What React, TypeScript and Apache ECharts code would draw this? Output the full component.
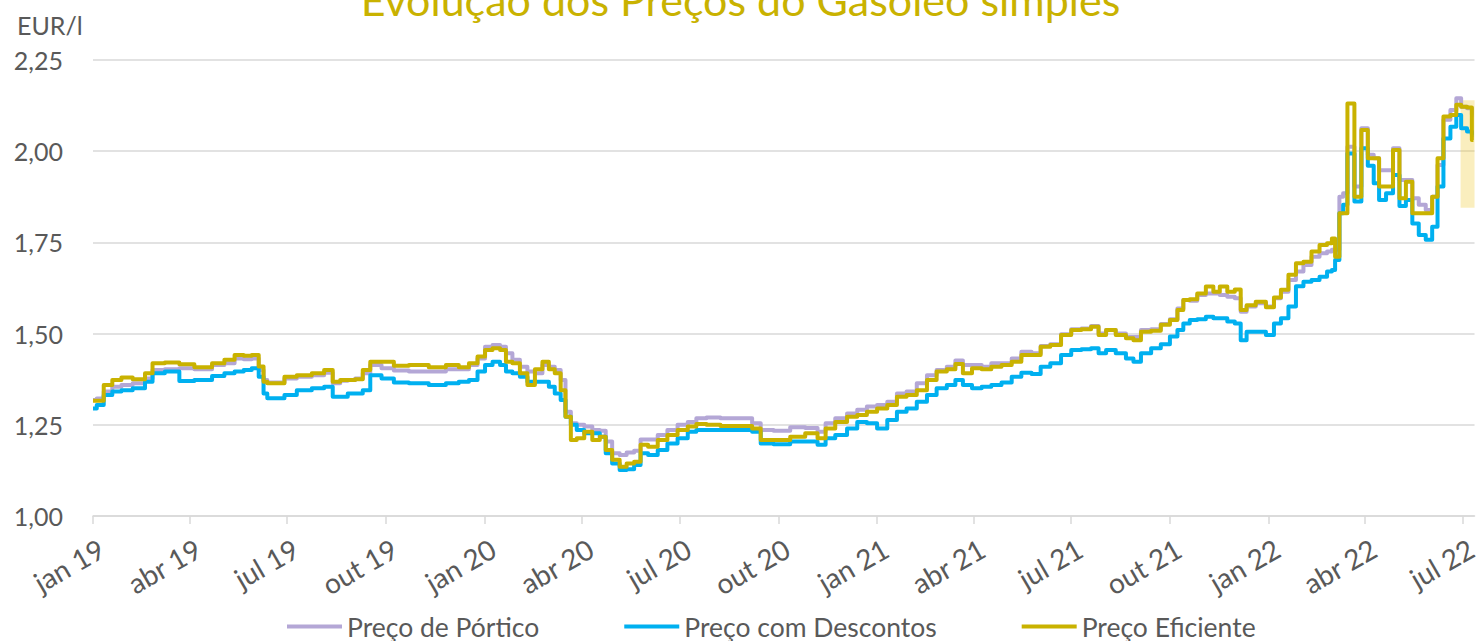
import React, { useEffect, useRef } from 'react';
import * as echarts from 'echarts';

// x values: days since 1 Jan 2019
const dayOffsets = [
  0, 7, 13, 23, 30, 44, 53, 58, 76, 85, 104, 118, 127, 137, 144, 152, 157, 161, 164, 174,
  183, 197, 211, 220, 227, 234, 241, 248, 255, 262, 276, 285, 304, 322, 336, 346, 355, 362, 369, 376,
  383, 387, 395, 401, 409, 415, 423, 427, 434, 438, 443, 448, 454, 462, 469, 476, 480, 488, 494, 501,
  508, 513, 522, 531, 540, 550, 559, 566, 578, 592, 610, 619, 626, 643, 657, 671, 680, 686, 698, 708,
  717, 726, 736, 745, 754, 763, 773, 782, 791, 801, 807, 815, 824, 833, 842, 852, 861, 870, 880, 887,
  898, 907, 917, 926, 935, 940, 949, 958, 968, 972, 982, 991, 1000, 1008, 1014, 1019, 1026, 1033, 1042, 1047,
  1054, 1061, 1068, 1072, 1079, 1089, 1098, 1104, 1111, 1118, 1125, 1132, 1140, 1147, 1154, 1156, 1160, 1164, 1167, 1172,
  1180, 1185, 1192, 1196, 1202, 1209, 1215, 1221, 1227, 1233, 1239, 1246, 1251, 1256, 1262, 1269, 1273, 1278, 1284, 1287,
];

const precoPortico = [
  1.318, 1.322, 1.341, 1.354, 1.359, 1.364, 1.377, 1.400, 1.402, 1.405, 1.402, 1.414, 1.419, 1.432, 1.430, 1.432, 1.400, 1.373, 1.366, 1.366,
  1.377, 1.382, 1.386, 1.393, 1.364, 1.371, 1.373, 1.377, 1.391, 1.414, 1.405, 1.399, 1.396, 1.396, 1.402, 1.402, 1.414, 1.432, 1.464, 1.469,
  1.464, 1.446, 1.428, 1.409, 1.396, 1.391, 1.414, 1.409, 1.400, 1.373, 1.286, 1.254, 1.250, 1.245, 1.236, 1.234, 1.204, 1.172, 1.167, 1.174,
  1.179, 1.210, 1.210, 1.222, 1.236, 1.250, 1.258, 1.268, 1.270, 1.268, 1.268, 1.254, 1.236, 1.234, 1.243, 1.241, 1.231, 1.254, 1.268, 1.281,
  1.291, 1.300, 1.304, 1.313, 1.336, 1.341, 1.364, 1.386, 1.400, 1.409, 1.426, 1.414, 1.414, 1.409, 1.419, 1.419, 1.432, 1.450, 1.446, 1.466,
  1.471, 1.498, 1.512, 1.514, 1.521, 1.500, 1.510, 1.500, 1.491, 1.491, 1.510, 1.512, 1.526, 1.539, 1.569, 1.592, 1.590, 1.606, 1.610, 1.610,
  1.606, 1.601, 1.597, 1.560, 1.574, 1.583, 1.574, 1.597, 1.615, 1.647, 1.670, 1.688, 1.711, 1.720, 1.725, 1.730, 1.730, 1.875, 1.885, 2.012,
  1.903, 2.063, 1.990, 1.981, 1.948, 1.948, 2.008, 1.921, 1.921, 1.871, 1.853, 1.839, 1.875, 1.962, 2.086, 2.113, 2.145, 2.122, 2.118, 2.100,
];

const precoDescontos = [
  1.295, 1.304, 1.332, 1.341, 1.345, 1.350, 1.368, 1.391, 1.396, 1.370, 1.373, 1.384, 1.391, 1.396, 1.400, 1.405, 1.382, 1.336, 1.323, 1.323,
  1.332, 1.345, 1.350, 1.354, 1.327, 1.327, 1.336, 1.336, 1.345, 1.386, 1.377, 1.366, 1.364, 1.359, 1.364, 1.368, 1.373, 1.396, 1.414, 1.423,
  1.414, 1.396, 1.391, 1.382, 1.368, 1.368, 1.368, 1.354, 1.336, 1.318, 1.272, 1.250, 1.236, 1.227, 1.227, 1.217, 1.172, 1.144, 1.126, 1.128,
  1.140, 1.172, 1.167, 1.181, 1.199, 1.213, 1.231, 1.236, 1.236, 1.236, 1.236, 1.231, 1.199, 1.197, 1.204, 1.204, 1.195, 1.213, 1.222, 1.240,
  1.258, 1.254, 1.240, 1.263, 1.286, 1.295, 1.313, 1.332, 1.350, 1.359, 1.373, 1.359, 1.350, 1.354, 1.359, 1.366, 1.382, 1.393, 1.389, 1.409,
  1.419, 1.441, 1.455, 1.457, 1.460, 1.446, 1.455, 1.446, 1.432, 1.423, 1.446, 1.460, 1.471, 1.492, 1.510, 1.528, 1.537, 1.539, 1.546, 1.542,
  1.542, 1.533, 1.528, 1.482, 1.505, 1.505, 1.496, 1.528, 1.542, 1.574, 1.630, 1.642, 1.647, 1.656, 1.670, 1.674, 1.702, 1.830, 1.853, 1.994,
  1.862, 2.008, 1.960, 1.912, 1.866, 1.885, 1.935, 1.850, 1.866, 1.802, 1.770, 1.757, 1.793, 1.903, 2.035, 2.067, 2.099, 2.063, 2.054, 2.045,
];

const precoEficiente = [
  1.316, 1.316, 1.359, 1.373, 1.380, 1.375, 1.391, 1.419, 1.421, 1.416, 1.408, 1.419, 1.428, 1.441, 1.439, 1.441, 1.410, 1.368, 1.364, 1.364,
  1.382, 1.386, 1.391, 1.400, 1.368, 1.373, 1.373, 1.375, 1.400, 1.423, 1.423, 1.412, 1.414, 1.408, 1.414, 1.408, 1.419, 1.437, 1.455, 1.460,
  1.455, 1.423, 1.419, 1.391, 1.359, 1.402, 1.423, 1.402, 1.391, 1.345, 1.272, 1.208, 1.213, 1.231, 1.208, 1.217, 1.181, 1.154, 1.135, 1.144,
  1.149, 1.195, 1.190, 1.208, 1.222, 1.236, 1.245, 1.252, 1.250, 1.247, 1.247, 1.240, 1.208, 1.208, 1.217, 1.227, 1.213, 1.240, 1.258, 1.272,
  1.277, 1.286, 1.295, 1.304, 1.327, 1.332, 1.345, 1.373, 1.396, 1.402, 1.417, 1.391, 1.405, 1.402, 1.409, 1.414, 1.423, 1.441, 1.441, 1.464,
  1.469, 1.496, 1.510, 1.512, 1.519, 1.496, 1.510, 1.496, 1.487, 1.482, 1.505, 1.508, 1.524, 1.537, 1.565, 1.592, 1.594, 1.610, 1.629, 1.615,
  1.629, 1.615, 1.621, 1.565, 1.578, 1.587, 1.572, 1.599, 1.620, 1.661, 1.693, 1.697, 1.725, 1.743, 1.748, 1.761, 1.711, 1.830, 1.830, 2.131,
  1.875, 2.058, 1.981, 1.981, 1.903, 1.903, 2.003, 1.871, 1.916, 1.830, 1.830, 1.830, 1.875, 1.981, 2.095, 2.099, 2.127, 2.122, 2.120, 2.031,
];

const tickDates = [
  '2019-01-01', '2019-04-01', '2019-07-01', '2019-10-01',
  '2020-01-01', '2020-04-01', '2020-07-01', '2020-10-01',
  '2021-01-01', '2021-04-01', '2021-07-01', '2021-10-01',
  '2022-01-01', '2022-04-01', '2022-07-01',
];
const tickLabels = [
  'jan 19', 'abr 19', 'jul 19', 'out 19',
  'jan 20', 'abr 20', 'jul 20', 'out 20',
  'jan 21', 'abr 21', 'jul 21', 'out 21',
  'jan 22', 'abr 22', 'jul 22',
];

const seriesNames = ['Preço de Pórtico', 'Preço com Descontos', 'Preço Eficiente'];
const seriesColors = ['#B4A7D6', '#00B0F0', '#C9B200'];

// highlighted window (last days of the period)
const highlightStartDay = 1275;
const highlightRange = [1.845, 2.14];

const DAY = 86400000;
const T0 = Date.UTC(2019, 0, 1);
const toDay = (s: string) => Math.round((new Date(s + 'T00:00:00Z').getTime() - T0) / DAY);

export default function App() {
  const ref = useRef<HTMLDivElement>(null);

  useEffect(() => {
    if (!ref.current) return;
    const chart = echarts.init(ref.current, null, { renderer: 'svg' });
    const font = 'Lato';
    const tickDays = tickDates.map(toDay);
    const xMax = 1288;
    const mk = (arr: number[]) => dayOffsets.map((d, i) => [d, arr[i]]);
    const allData = [precoPortico, precoDescontos, precoEficiente];

    const series: any[] = allData.map((arr, i) => ({
      name: seriesNames[i],
      type: 'line',
      data: mk(arr),
      step: 'middle',
      showSymbol: false,
      symbol: 'none',
      lineStyle: { color: seriesColors[i], width: 4, join: 'round' },
      itemStyle: { color: seriesColors[i] },
      z: 2 + i,
    }));
    series[2].markArea = {
      silent: true,
      itemStyle: { color: 'rgba(240,200,40,0.3)' },
      data: [[
        { coord: [highlightStartDay, highlightRange[1]] },
        { coord: [xMax, highlightRange[0]] },
      ]],
    };

    chart.setOption({
      animation: false,
      backgroundColor: '#ffffff',
      title: {
        text: 'Evolução dos Preços do Gasóleo simples',
        left: 'center',
        top: -27,
        textStyle: { color: '#C9B200', fontSize: 43, fontWeight: 'normal', fontFamily: font },
      },
      graphic: [
        {
          type: 'text',
          left: 17,
          top: 12,
          style: { text: 'EUR/l', fill: '#595959', fontSize: 25, fontFamily: font },
        },
      ],
      legend: {
        bottom: -4,
        left: 282,
        icon: 'rect',
        itemWidth: 55,
        itemHeight: 4,
        itemGap: 85,
        data: seriesNames,
        textStyle: { color: '#595959', fontSize: 26.5, fontFamily: font },
      },
      grid: { left: 93, right: 0, top: 60, bottom: 125, containLabel: false },
      xAxis: {
        type: 'value',
        min: 0,
        max: xMax,
        axisLine: { show: true, lineStyle: { color: '#D9D9D9', width: 1.5 } },
        axisTick: { show: true, customValues: tickDays, length: 8, lineStyle: { color: '#D9D9D9', width: 1.5 } },
        splitLine: { show: false },
        axisLabel: {
          customValues: tickDays,
          rotate: 30,
          margin: 35,
          padding: [0, -10, 0, 0],
          color: '#595959',
          fontSize: 28,
          fontFamily: font,
          showMinLabel: true,
          showMaxLabel: true,
          formatter: (v: number) => {
            let best = 0;
            let bd = Infinity;
            tickDays.forEach((t, i) => {
              const d = Math.abs(t - v);
              if (d < bd) { bd = d; best = i; }
            });
            return tickLabels[best];
          },
        },
      },
      yAxis: {
        type: 'value',
        min: 1,
        max: 2.25,
        interval: 0.25,
        axisLine: { show: false },
        axisTick: { show: false },
        splitLine: { lineStyle: { color: '#D9D9D9', width: 1.5 } },
        axisLabel: {
          margin: 30,
          color: '#595959',
          fontSize: 25,
          fontFamily: font,
          formatter: (v: number) => v.toFixed(2).replace('.', ','),
        },
      },
      series,
    });

    return () => chart.dispose();
  }, []);

  return (
    <div
      ref={ref}
      style={{ position: 'fixed', left: 0, top: 0, width: 1481, height: 641, background: '#fff' }}
    />
  );
}
